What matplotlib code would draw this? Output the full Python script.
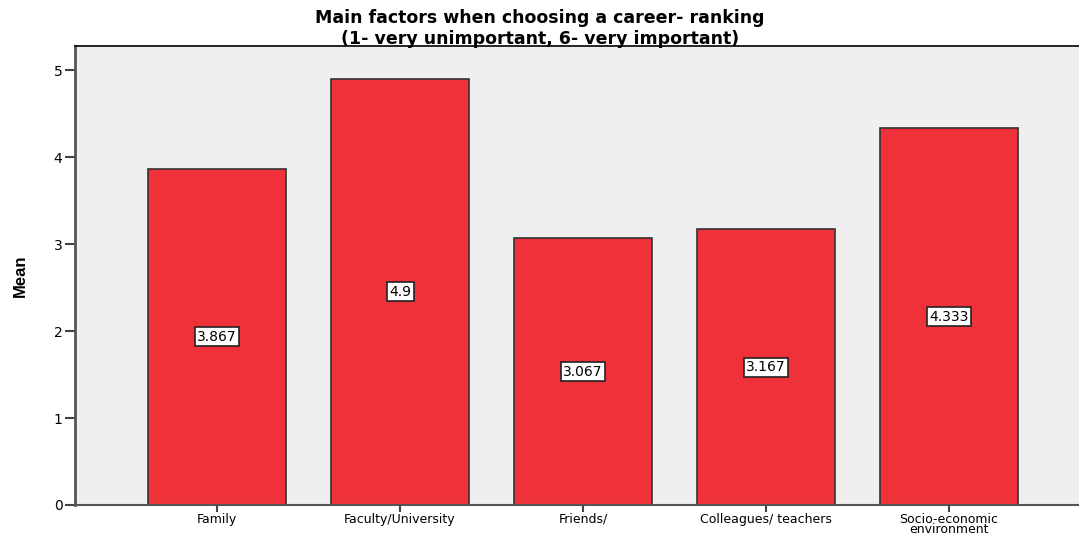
import matplotlib
matplotlib.use("Agg")
import matplotlib.pyplot as plt

categories = ["Family", "Faculty/University", "Friends/", "Colleagues/ teachers", "Socio-economic\nenvironment"]
means = [3.867, 4.9, 3.067, 3.167, 4.333]
value_labels = ["3.867", "4.9", "3.067", "3.167", "4.333"]
yticks = [0, 1, 2, 3, 4, 5]
title_lines = ["Main factors when choosing a career- ranking", "(1- very unimportant, 6- very important)"]

plt.rcParams['font.family'] = ['DejaVu Sans']

fig = plt.figure(figsize=(10.79, 5.34), dpi=100)
W, H = 1079, 534
left, right, top, bottom = 75, 1079, 46, 505
ax = fig.add_axes([left / W, 1 - bottom / H, (right - left) / W, (bottom - top) / H])
ax.set_facecolor("#EFEFEF")

x = list(range(len(categories)))
ax.bar(x, means, width=0.754, color="#EF3239", edgecolor="#333333", linewidth=1.2, zorder=2)
for xi, m, lab in zip(x, means, value_labels):
    ax.text(xi, m / 2, lab, ha="center", va="center", fontsize=10, zorder=3,
            bbox=dict(boxstyle="square,pad=0.18", facecolor="white", edgecolor="#222222", linewidth=1.2))

ax.set_xlim(-0.776, 4.71)
ax.set_ylim(0, 5.276)
ax.set_yticks(yticks)
ax.set_xticks(x)
ax.set_xticklabels(categories, fontsize=9, linespacing=0.7)
ax.tick_params(axis="y", labelsize=10, length=7, width=1.5, color="#444444", pad=2)
ax.tick_params(axis="x", length=5, width=1.5, color="#444444", pad=0.5)

ax.spines["right"].set_visible(False)
ax.spines["top"].set_color("black")
ax.spines["top"].set_linewidth(1.2)
ax.spines["left"].set_color("#555555")
ax.spines["left"].set_linewidth(2.0)
ax.spines["bottom"].set_color("#555555")
ax.spines["bottom"].set_linewidth(1.5)

fig.text(540 / W, 1 - 18 / H, title_lines[0], ha="center", va="center", fontsize=12.5, fontweight="bold")
fig.text(540 / W, 1 - 38.5 / H, title_lines[1], ha="center", va="center", fontsize=12.5, fontweight="bold")
fig.text(20 / W, 1 - 276 / H, "Mean", rotation=90, ha="center", va="center", fontsize=12,
         fontweight="bold", family=["Liberation Sans Narrow", "Liberation Sans", "DejaVu Sans"])

fig.savefig("out.png", dpi=100)
